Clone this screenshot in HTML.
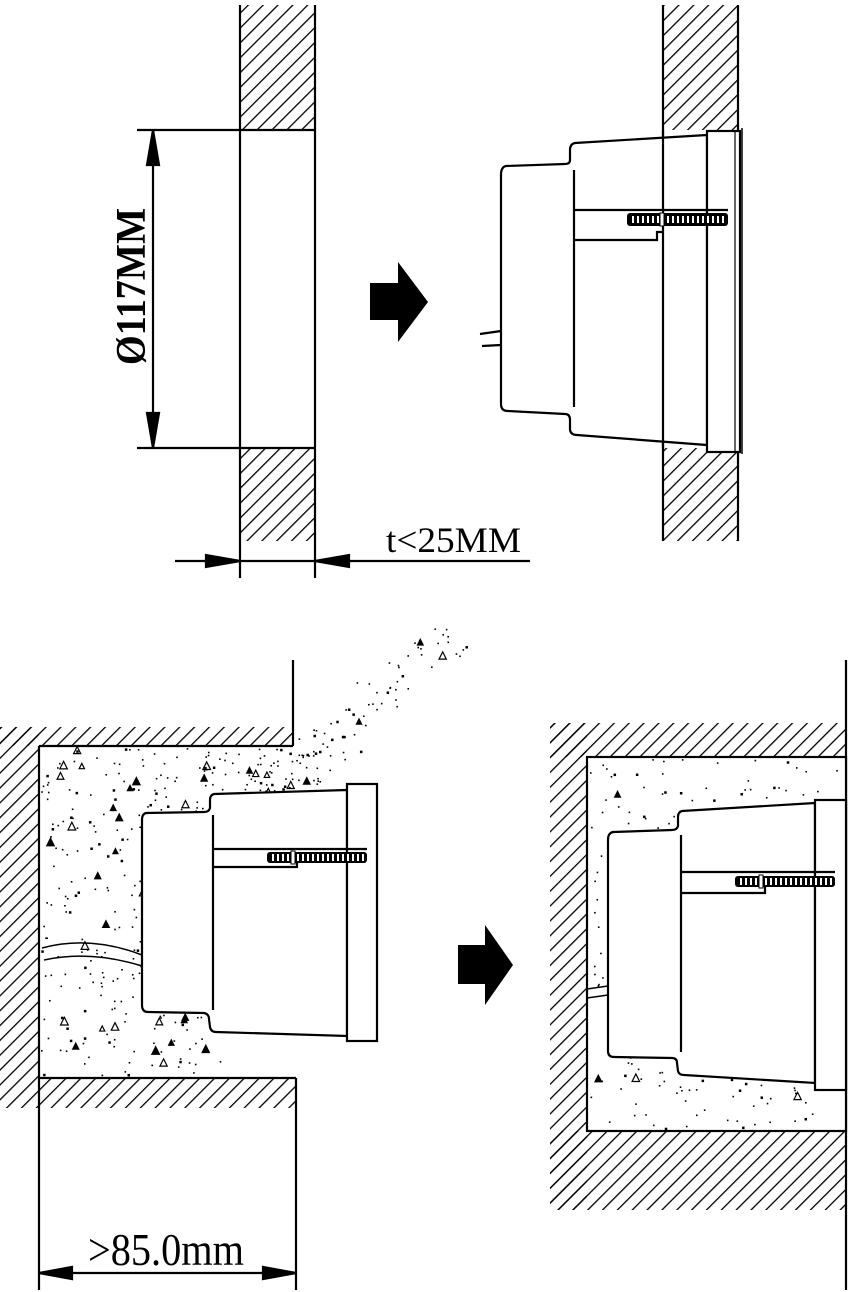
<!DOCTYPE html>
<html><head><meta charset="utf-8">
<style>
html,body{margin:0;padding:0;background:#fff;}
svg{display:block;}
text{font-family:"Liberation Serif",serif;font-weight:bold;fill:#000;}
</style></head>
<body>
<svg id="s" width="852" height="1292" viewBox="0 0 852 1292" xmlns="http://www.w3.org/2000/svg">
<defs>
<pattern id="h" patternUnits="userSpaceOnUse" width="10.5" height="10.5" patternTransform="rotate(45)">
<line x1="0" y1="0" x2="0" y2="10.5" stroke="#000" stroke-width="2.6"/>
</pattern>
</defs>
<g stroke="#000" stroke-width="2.2" fill="none">
<rect x="240" y="5" width="75" height="125" fill="url(#h)" stroke="none"/>
<rect x="240" y="448" width="75" height="93" fill="url(#h)" stroke="none"/>
<line x1="240" y1="5" x2="240" y2="578"/>
<line x1="315" y1="5" x2="315" y2="578"/>
<line x1="240" y1="130" x2="315" y2="130"/>
<line x1="240" y1="448" x2="315" y2="448"/>
<line x1="137" y1="130" x2="240" y2="130"/>
<line x1="137" y1="448" x2="240" y2="448"/>
<line x1="153" y1="130" x2="153" y2="448"/>
<polygon points="153,130 147,165 159,165" fill="#000"/>
<polygon points="153,448 147,413 159,413" fill="#000"/>
<line x1="175" y1="561" x2="530" y2="561"/>
<polygon points="240,561 206,555 206,567" fill="#000"/>
<polygon points="315,561 349,555 349,567" fill="#000"/>
</g>
<text transform="translate(145,365) rotate(-90)" font-size="42" textLength="157" lengthAdjust="spacingAndGlyphs">Ø117MM</text>
<text x="386" y="552" font-size="36" textLength="135" lengthAdjust="spacingAndGlyphs" style="font-weight:normal">t&lt;25MM</text>

<polygon points="370,283 398,283 398,262 428,302 398,342 398,320 370,320" fill="#000"/>
<polygon points="458,945 485,945 485,925 513,965 485,1005 485,984 458,984" fill="#000"/>

<g stroke="#000" stroke-width="2.2" fill="none">
<rect x="663" y="5" width="75" height="125" fill="url(#h)" stroke="none"/>
<rect x="663" y="448" width="75" height="93" fill="url(#h)" stroke="none"/>
<line x1="663" y1="5" x2="663" y2="541"/>
<line x1="738" y1="5" x2="738" y2="541"/>
<path d="M707,135 L575,143 Q570,144 570,150 L570,160 Q570,164 565,164 L506,166 Q501,167 501,175 L501,404 Q501,411 508,411 L565,414 Q570,414 570,420 L570,430 Q571,435 577,435 L707,445 Z" fill="#fff"/>
<line x1="574" y1="170" x2="574" y2="407"/>
<rect x="707" y="131" width="33" height="321" fill="#fff"/>
<line x1="735" y1="131" x2="735" y2="452" stroke-width="1.2"/>
<line x1="742" y1="128" x2="742" y2="454" stroke-width="1.5"/>
<path d="M574,210 L728,210 M574,240 L657,240 L657,232 L664,232"/>
<line x1="663" y1="130" x2="663" y2="448"/>
<line x1="480" y1="334" x2="501" y2="331"/>
<line x1="482" y1="346" x2="501" y2="345"/>
</g>
<rect x="627" y="213" width="101" height="13" rx="3" fill="#000"/>

<g stroke="#000" stroke-width="2.2" fill="none">
<rect x="0" y="727" width="293" height="19" fill="url(#h)" stroke="none"/>
<rect x="0" y="727" width="39" height="381" fill="url(#h)" stroke="none"/>
<rect x="39" y="1078" width="257" height="30" fill="url(#h)" stroke="none"/>
<line x1="293" y1="660" x2="293" y2="746"/>
<line x1="39" y1="746" x2="293" y2="746"/>
<line x1="39" y1="746" x2="39" y2="1290"/>
<line x1="39" y1="1078" x2="296" y2="1078"/>
<line x1="296" y1="1078" x2="296" y2="1290"/>
<line x1="39" y1="1273" x2="296" y2="1273"/>
<polygon points="39,1273 72,1267 72,1279" fill="#000"/>
<polygon points="296,1273 263,1267 263,1279" fill="#000"/>
</g>
<text x="88" y="1265" font-size="46" textLength="156" lengthAdjust="spacingAndGlyphs" style="font-weight:normal">&gt;85.0mm</text>
<g id="dots"></g>
<g stroke="#000" stroke-width="2.2" fill="none">
<path d="M42,948 Q90,935 142,955" stroke-width="1.5"/>
<path d="M44,960 Q90,950 142,966" stroke-width="1.5"/>
<path d="M347,790 L214,794 Q210,795 210,800 L210,808 Q209,812 204,812 L146,813 Q142,814 142,820 L142,1005 Q142,1012 148,1012 L204,1013 Q209,1014 209,1019 L210,1027 Q211,1032 216,1032 L347,1036 Z" fill="#fff"/>
<line x1="213" y1="815" x2="213" y2="1010"/>
<rect x="347" y="784" width="30" height="257" fill="#fff"/>
<path d="M213,849 L367,849 M213,867 L297,867 L297,861"/>
</g>
<rect x="267" y="852" width="100" height="11" rx="3" fill="#000"/>

<g stroke="#000" stroke-width="2.2" fill="none">
<rect x="550" y="723" width="296" height="34" fill="url(#h)" stroke="none"/>
<rect x="550" y="723" width="37" height="487" fill="url(#h)" stroke="none"/>
<rect x="550" y="1131" width="296" height="79" fill="url(#h)" stroke="none"/>
<line x1="846" y1="660" x2="846" y2="1290"/>
<rect x="587" y="757" width="259" height="374" fill="#fff"/>
</g>
<g id="dots2"></g>
<g stroke="#000" stroke-width="2.2" fill="none">
<path d="M587,989 L608,986 M587,998 L608,995" stroke-width="1.5"/>
<path d="M815,803 L682,811 Q678,812 678,817 L678,826 Q677,830 672,830 L613,832 Q608,833 608,840 L608,1051 Q608,1057 614,1057 L672,1058 Q677,1058 677,1063 L678,1071 Q679,1075 684,1075 L815,1083 Z" fill="#fff"/>
<line x1="681" y1="835" x2="681" y2="1052"/>
<rect x="815" y="800" width="31" height="290" fill="#fff"/>
<path d="M681,872 L835,872 M681,893 L765,893 L765,887"/>
</g>
<rect x="735" y="876" width="100" height="11" rx="3" fill="#000"/>
</svg>
<script>
(function(){
var s=document.getElementById('s');var NS='http://www.w3.org/2000/svg';
var seed=7;function r(){seed=(seed*16807)%2147483647;return seed/2147483647;}
function dot(g,x,y){var k=r();var e;
 if(k<0.07){e=document.createElementNS(NS,'polygon');var a=2.5+r()*1.5;
  e.setAttribute('points',(x)+','+(y-a)+' '+(x-a)+','+(y+a)+' '+(x+a)+','+(y+a));
  e.setAttribute('fill',r()<0.6?'#000':'none');e.setAttribute('stroke','#000');e.setAttribute('stroke-width','1.2');}
 else{e=document.createElementNS(NS,'rect');var w=k<0.25?2.5:1.6;e.setAttribute('x',x);e.setAttribute('y',y);e.setAttribute('width',w);e.setAttribute('height',w);e.setAttribute('fill','#000');}
 g.appendChild(e);}
var g=document.getElementById('dots');
for(var i=0;i<320;i++){var x=41+r()*180,y=748+r()*328;dot(g,x,y);}
for(i=0;i<70;i++){dot(g,200+r()*120,748+r()*45);}
for(i=0;i<70;i++){var t=r();var x=300+t*150+(r()-0.5)*40;var y=770-t*140+(r()-0.5)*40;dot(g,x,y);}
var g2=document.getElementById('dots2');
for(i=0;i<300;i++){dot(g2,589+r()*255,759+r()*370);}
function ticks(x0,x1,y,h,gap){for(var x=x0;x<x1;x+=5){var e=document.createElementNS(NS,'rect');e.setAttribute('x',x);e.setAttribute('y',y);e.setAttribute('width',2);e.setAttribute('height',h);e.setAttribute('fill','#fff');s.appendChild(e);}
 var e=document.createElementNS(NS,'rect');e.setAttribute('x',gap);e.setAttribute('y',y-3);e.setAttribute('width',4);e.setAttribute('height',h+6);e.setAttribute('fill','#fff');e.setAttribute('stroke','#000');e.setAttribute('stroke-width','1');s.appendChild(e);}
ticks(632,725,216,7,660);ticks(272,364,854,7,291);ticks(740,832,878,7,759);
})();
</script>
</body></html>
